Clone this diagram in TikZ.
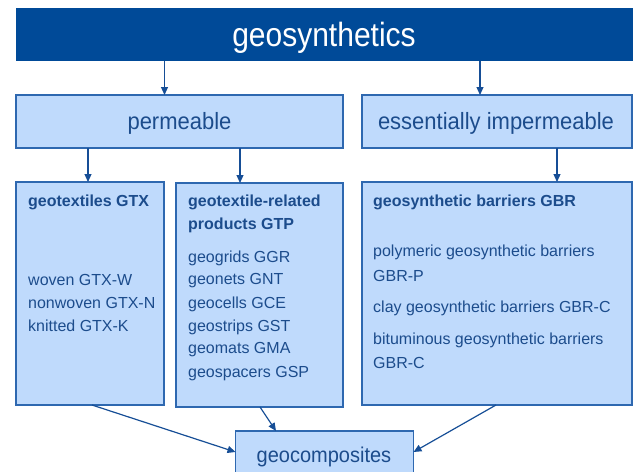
\documentclass[tikz,border=0pt]{standalone}
\usepackage{fontspec}
\setmainfont{Liberation Sans}
\usetikzlibrary{arrows.meta}

\definecolor{banner}{RGB}{0,74,152}
\definecolor{boxfill}{RGB}{191,218,252}
\definecolor{boxline}{RGB}{46,104,176}
\definecolor{txt}{RGB}{28,76,140}
\definecolor{arrowc}{RGB}{22,78,150}

% slightly taller lettering for the large labels
\newcommand\stretchtxt[2]{\scalebox{1}[#1]{#2}}

\tikzset{
  panel/.style={draw=boxline, line width=1.1pt, fill=boxfill, inner sep=0pt, outer sep=0pt},
  headline/.style={font=\fontsize{22}{26}\selectfont, text=txt},
  bodytxt/.style={font=\fontsize{16}{23}\selectfont, text=txt, anchor=west, inner sep=0pt, align=left},
  headtxt/.style={font=\fontsize{16}{23}\selectfont\bfseries, text=txt, anchor=west, inner sep=0pt, align=left},
  arr/.style={draw=arrowc, line width=1.2pt, -{Triangle[length=8pt,width=7pt]}},
}

\begin{document}
\begin{tikzpicture}[x=1pt, y=-1pt]
  \useasboundingbox (0,0) rectangle (633,472);

  % top banner
  \node[fill=banner, inner sep=0pt, minimum width=617pt, minimum height=53pt]
    (top) at (324.5,34.5) {};
  \node[font=\fontsize{30}{34}\selectfont, text=white] (toptxt) at (324,38) {\stretchtxt{1.12}{geosynthetics}};

  % second level
  \node[panel, minimum width=327pt, minimum height=53pt] (perm) at (179.5,121.5) {};
  \node[headline] (permtxt) at (179.5,123) {\stretchtxt{1.07}{permeable}};
  \node[panel, minimum width=270pt, minimum height=53pt] (imp) at (497,121.5) {};
  \node[headline] (imptxt) at (496,123) {\stretchtxt{1.07}{essentially impermeable}};

  % product groups
  \node[panel, minimum width=148pt, minimum height=223pt] (gtx) at (90,293.5) {};
  \node[panel, minimum width=167pt, minimum height=224pt] (gtp) at (259.5,295) {};
  \node[panel, minimum width=270pt, minimum height=223pt] (gbr) at (497,293.5) {};

  % geocomposites
  \node[panel, minimum width=178pt, minimum height=62pt] (geoc) at (324.5,462) {};
  \node[font=\fontsize{20}{24}\selectfont, text=txt] (geoctxt) at (324,457) {\stretchtxt{1.07}{geocomposites}};

  % texts: geotextiles
  \node[headtxt] (h1) at (28,202) {geotextiles GTX};
  \node[bodytxt] (t1a) at (28,280) {woven GTX-W};
  \node[bodytxt] (t1b) at (28,303) {nonwoven GTX-N};
  \node[bodytxt] (t1c) at (28,326) {knitted GTX-K};

  % texts: geotextile-related products
  \node[headtxt] (h2a) at (188,202) {geotextile-related};
  \node[headtxt] (h2b) at (188,225) {products GTP};
  \node[bodytxt] (t2a) at (188,258) {geogrids GGR};
  \node[bodytxt] (t2b) at (188,281) {geonets GNT};
  \node[bodytxt] (t2c) at (188,304) {geocells GCE};
  \node[bodytxt] (t2d) at (188,327) {geostrips GST};
  \node[bodytxt] (t2e) at (188,350) {geomats GMA};
  \node[bodytxt] (t2f) at (188,374) {geospacers GSP};

  % texts: geosynthetic barriers
  \node[headtxt] (h3) at (373,202) {geosynthetic barriers GBR};
  \node[bodytxt] (t3a) at (373,252) {polymeric geosynthetic barriers};
  \node[bodytxt] (t3b) at (373,276) {GBR-P};
  \node[bodytxt] (t3c) at (373,308) {clay geosynthetic barriers GBR-C};
  \node[bodytxt] (t3d) at (373,340) {bituminous geosynthetic barriers};
  \node[bodytxt] (t3e) at (373,363) {GBR-C};

  % connectors
  \draw[arr] ([xshift=-15pt]perm.north |- top.south) -- ([xshift=-15pt]perm.north);
  \draw[arr] ([xshift=-17pt]imp.north |- top.south) -- ([xshift=-17pt]imp.north);
  \draw[arr] ([xshift=-2pt]gtx.north |- perm.south) -- ([xshift=-2pt]gtx.north);
  \draw[arr] ([xshift=-19.5pt]gtp.north |- perm.south) -- ([xshift=-19.5pt]gtp.north);
  \draw[arr] ([xshift=60pt]gbr.north |- imp.south) -- ([xshift=60pt]gbr.north);

  \draw[arr] ([xshift=2pt]gtx.south) -- ([yshift=10pt]geoc.west);
  \draw[arr] ([xshift=0.5pt]gtp.south) -- ([xshift=-48.5pt]geoc.north);
  \draw[arr] ([xshift=-1pt]gbr.south) -- ([yshift=10pt]geoc.east);
\end{tikzpicture}
\end{document}
